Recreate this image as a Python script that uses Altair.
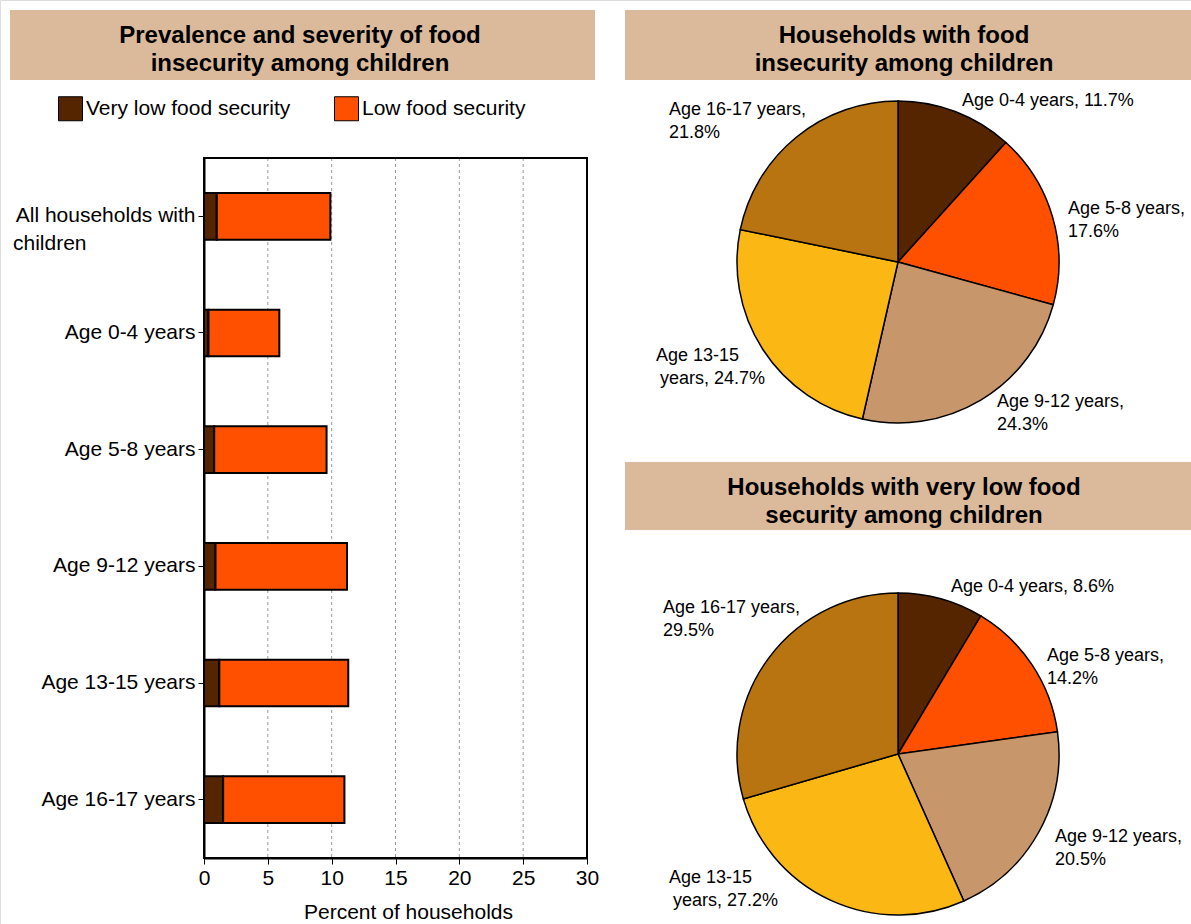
import altair as alt
import pandas as pd

FONT = "Liberation Sans"

# ---------------- data ----------------
categories = [
    "All households with children",
    "Age 0-4 years",
    "Age 5-8 years",
    "Age 9-12 years",
    "Age 13-15 years",
    "Age 16-17 years",
]
very_low_pct = [1.0, 0.35, 0.8, 0.9, 1.2, 1.5]
low_pct = [8.9, 5.55, 8.8, 10.3, 10.1, 9.5]
series_names = ["Very low food security", "Low food security"]
series_colors = ["#552500", "#FF5000"]
x_tick_values = [0, 5, 10, 15, 20, 25, 30]

age_groups = ["Age 0-4 years", "Age 5-8 years", "Age 9-12 years",
              "Age 13-15 years", "Age 16-17 years"]
food_insecure_share = [11.7, 17.6, 24.3, 24.7, 21.8]
very_low_share = [8.6, 14.2, 20.5, 27.2, 29.5]
age_colors = ["#552500", "#FF5000", "#C8966B", "#FBB815", "#B87410"]

titles = [
    ["Prevalence and severity of food", "insecurity among children"],
    ["Households with food", "insecurity among children"],
    ["Households with very low food", "security among children"],
]
pie1_labels = [
    ["Age 0-4 years, 11.7%"],
    ["Age 5-8 years,", "17.6%"],
    ["Age 9-12 years,", "24.3%"],
    ["Age 13-15"], ["years, 24.7%"],
    ["Age 16-17 years,", "21.8%"],
]
pie2_labels = [
    ["Age 0-4 years, 8.6%"],
    ["Age 5-8 years,", "14.2%"],
    ["Age 9-12 years,", "20.5%"],
    ["Age 13-15"], ["years, 27.2%"],
    ["Age 16-17 years,", "29.5%"],
]

# ---------------- tables ----------------
rows = []
for c, v, l in zip(categories, very_low_pct, low_pct):
    rows.append({"category": c, "series": series_names[0], "value": v, "order": 0})
    rows.append({"category": c, "series": series_names[1], "value": l, "order": 1})
bar_df = pd.DataFrame(rows)

grid_df = pd.DataFrame({"v": x_tick_values[1:-1]})

pie1_df = pd.DataFrame({"age": age_groups, "share": food_insecure_share,
                        "idx": list(range(len(age_groups)))})
pie2_df = pd.DataFrame({"age": age_groups, "share": very_low_share,
                        "idx": list(range(len(age_groups)))})

one = alt.Data(values=[{}])

BANNER = "#DBB99B"


def banner(x1, x2, y1, y2):
    return alt.Chart(one).mark_rect(color=BANNER).encode(
        x=alt.value(x1), x2=alt.value(x2), y=alt.value(y1), y2=alt.value(y2))


def text(lines, x, y, size=18, bold=False, align="left", lh=23):
    return alt.Chart(one).mark_text(
        align=align, baseline="top", font=FONT, fontSize=size,
        fontWeight="bold" if bold else "normal", lineHeight=lh, color="black"
    ).encode(x=alt.value(x), y=alt.value(y), text=alt.value(lines))


# the first category is shown on two lines: first line at the tick,
# second line ("children") left-aligned under it
label_expr = ("datum.value == 'All households with children' ? "
              "'All households with' : datum.value")

y_axis = alt.Axis(title=None, orient="left", offset=-204, labelFontSize=21,
                  labelFont=FONT, labelColor="black", tickColor="black",
                  tickSize=6, tickWidth=1, domainColor="black", domainWidth=2,
                  labelPadding=3, grid=False, labelExpr=label_expr, labelLimit=0)

x_axis = alt.Axis(title="Percent of households", orient="bottom", offset=-66,
                  values=x_tick_values, labelFontSize=21, titleFontSize=21,
                  titleFontWeight="normal", labelFont=FONT, titleFont=FONT,
                  titleColor="black", labelColor="black", tickColor="black",
                  tickSize=6, domainColor="black", domainWidth=2, grid=False,
                  labelPadding=3, titlePadding=13, titleX=408, labelFlush=False)

x_scale = alt.Scale(domain=[0, 30], range=[204, 587], nice=False)

grid = alt.Chart(grid_df).mark_rule(color="#999999", strokeWidth=1, strokeDash=[3, 3]).encode(
    x=alt.X("v:Q", scale=x_scale, axis=x_axis, title="Percent of households"),
    y=alt.value(158), y2=alt.value(858))

bars = alt.Chart(bar_df).mark_bar(stroke="black", strokeWidth=2).encode(
    y=alt.Y("category:N", sort=categories,
            scale=alt.Scale(range=[158, 858], paddingInner=0.6, paddingOuter=0.3),
            axis=y_axis),
    x=alt.X("value:Q", stack="zero", scale=x_scale, axis=x_axis,
            title="Percent of households"),
    color=alt.Color("series:N", sort=series_names,
                    scale=alt.Scale(domain=series_names, range=series_colors),
                    legend=alt.Legend(title=None, orient="none", legendX=58, legendY=96,
                                      direction="horizontal", symbolType="square",
                                      symbolSize=576, symbolStrokeColor="black",
                                      symbolStrokeWidth=1, labelFontSize=21,
                                      labelFont=FONT, labelColor="black",
                                      labelLimit=0, columnPadding=41, labelOffset=3,
                                      padding=0)),
    order=alt.Order("order:Q"),
)

frame = alt.Chart(one).mark_rect(filled=False, stroke="black", strokeWidth=2).encode(
    x=alt.X(datum=0, scale=x_scale, axis=x_axis, title="Percent of households"),
    x2=alt.datum(30),
    y=alt.value(158), y2=alt.value(858))


def pie(df, cx, cy):
    return alt.Chart(df).mark_arc(outerRadius=161, stroke="black", strokeWidth=1.5).encode(
        theta=alt.Theta("share:Q", stack=True),
        order=alt.Order("idx:Q"),
        color=alt.Color("age:N", sort=age_groups,
                        scale=alt.Scale(domain=age_groups, range=age_colors),
                        legend=None),
        x=alt.value(cx), y=alt.value(cy),
    )


pie1 = pie(pie1_df, 898, 262)
pie2 = pie(pie2_df, 898, 754)

layers = [
    banner(10, 595, 10, 80),
    banner(625, 1191, 10, 80),
    banner(625, 1191, 462, 530),
    text(titles[0], 300, 24, size=24, bold=True, align="center", lh=28),
    text(titles[1], 904, 24, size=24, bold=True, align="center", lh=28),
    text(titles[2], 904, 476, size=24, bold=True, align="center", lh=28),
    grid,
    bars,
    frame,
    text(["children"], 13, 233, size=21),
    pie1,
    pie2,
    text(pie1_labels[0], 962, 92),
    text(pie1_labels[1], 1068, 200),
    text(pie1_labels[2], 997, 393),
    text(pie1_labels[3], 656, 347),
    text(pie1_labels[4], 660, 370),
    text(pie1_labels[5], 669, 101),
    text(pie2_labels[0], 951, 578),
    text(pie2_labels[1], 1047, 647),
    text(pie2_labels[2], 1055, 828),
    text(pie2_labels[3], 669, 869),
    text(pie2_labels[4], 673, 892),
    text(pie2_labels[5], 663, 599),
]

chart = alt.layer(*layers).resolve_scale(
    color="independent", theta="independent"
).properties(
    width=1191, height=924, autosize=alt.AutoSizeParams(type="none"), padding=0
).configure_view(stroke=None).configure(font=FONT)

chart.save("out.html", embed_options={"renderer": "svg", "actions": False})
